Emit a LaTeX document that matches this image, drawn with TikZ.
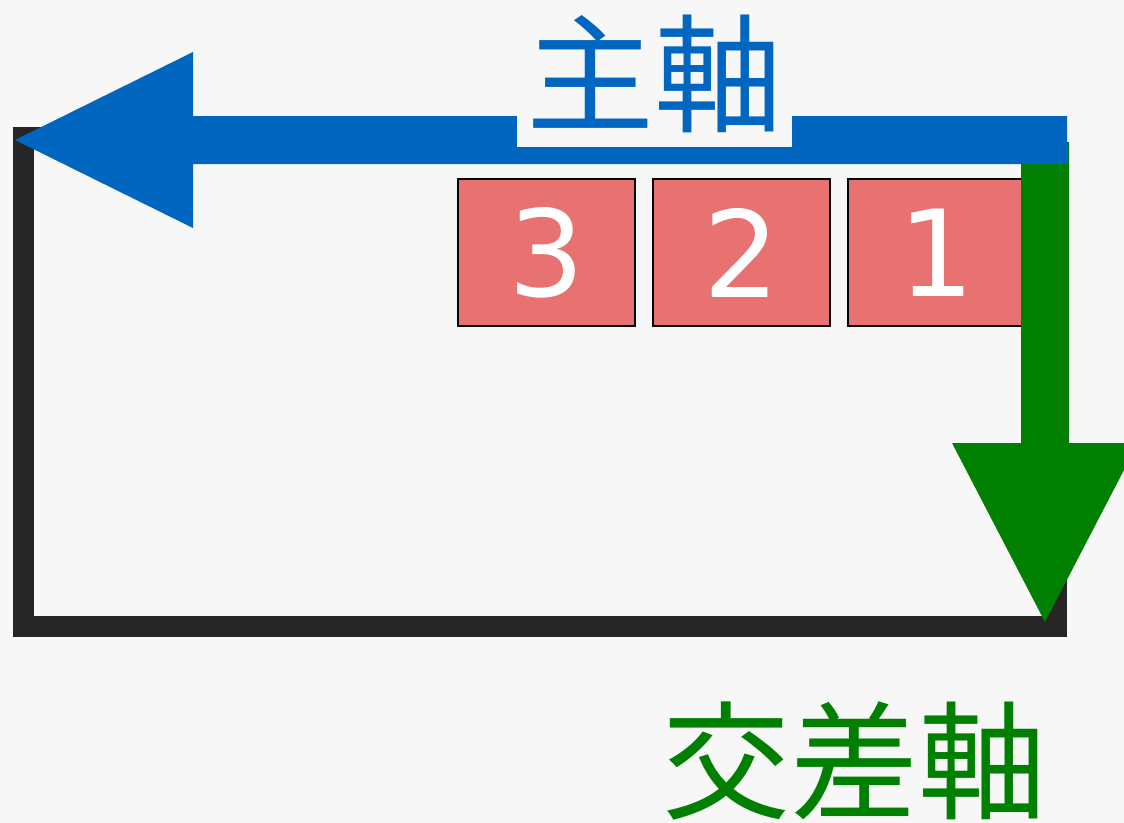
\documentclass[tikz,border=0pt]{standalone}
\usepackage{fontspec}
\newfontfamily\cjk{Noto Sans CJK JP}
\newfontfamily\digitfont{DejaVu Sans}
\definecolor{bg}{HTML}{F7F7F7}
\definecolor{mainblue}{HTML}{0066BF}
\definecolor{crossgreen}{HTML}{007F00}
\definecolor{frame}{HTML}{262626}
\definecolor{boxred}{HTML}{E87171}
\tikzset{
  itembox/.style={draw=black, line width=2.5bp, fill=boxred, minimum width=177bp, minimum height=147bp,
    inner sep=0pt, text=white, font=\digitfont\fontsize{120bp}{140bp}\selectfont},
  axislabel/.style={font=\cjk\fontsize{128bp}{150bp}\selectfont, inner sep=0pt},
  framebox/.style={draw=frame, line width=21bp, line join=miter}
}
\begin{document}
\begin{tikzpicture}[x=1bp,y=-1bp]
\fill[bg] (0,0) rectangle (1124,823);
\useasboundingbox (0,0) rectangle (1124,823);
% frame
\draw[framebox] (23.5,137.5) rectangle (1056.5,626);
% boxes
\node[itembox] (b3) at (546.5,252.5) {3};
\node[itembox] (b2) at (741.5,252.5) {2};
\node[itembox] (b1) at (936.5,252.5) {1};
% green cross-axis arrow
\coordinate (gs) at (1045,142);
\coordinate (gt) at (1045,622);
\fill[crossgreen] (1021,142) -- (1069,142) -- (1069,443) -- (1138,443) -- (gt) -- (952,443) -- (1021,443) -- cycle;
% blue main-axis arrow
\coordinate (bs) at (1067,140);
\coordinate (bt) at (15,140);
\fill[mainblue] (1067,116) -- (193,116) -- (193,52) -- (bt) -- (193,228) -- (193,164) -- (1067,164) -- cycle;
% labels
\node[axislabel, text=mainblue, fill=bg, inner xsep=9.5bp, inner ysep=14bp] (mainlbl) at (654,74) {主軸};
\node[axislabel, text=crossgreen] (crosslbl) at (854,761) {交差軸};
\end{tikzpicture}
\end{document}
